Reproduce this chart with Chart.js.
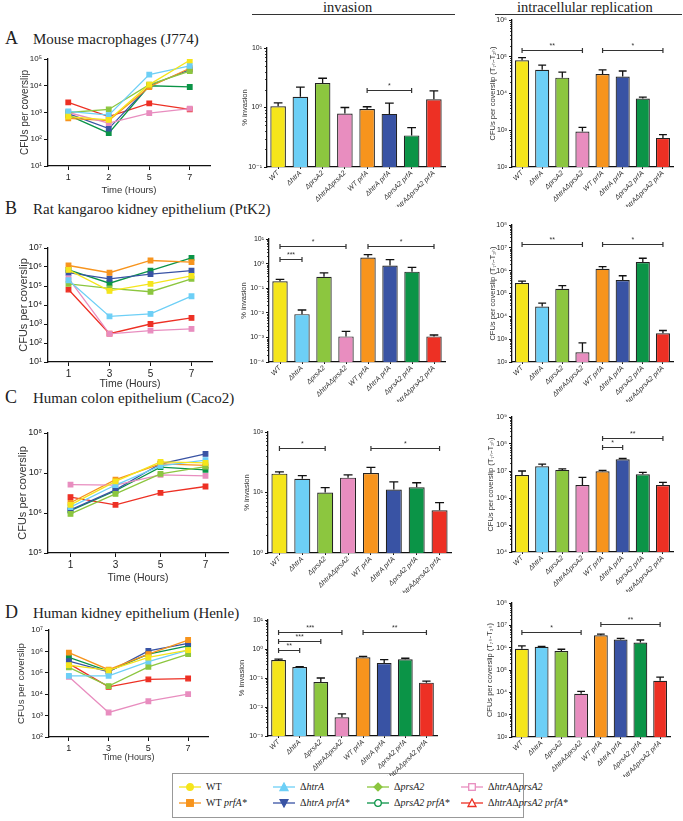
<!DOCTYPE html>
<html>
<head>
<meta charset="utf-8">
<script src="https://cdn.jsdelivr.net/npm/chart.js@4.4.0/dist/chart.umd.min.js"></script>
<style>
  body { margin: 0; width: 683px; height: 821px; position: relative; background: #fff; overflow: hidden; font-family: 'Liberation Serif', 'DejaVu Serif', serif; color: #222; }
  canvas { position: absolute; }
  .lbl { position: absolute; white-space: nowrap; line-height: 1; }
  .hline { position: absolute; height: 0; border-top: 1.5px solid #333; }
  #legend { position: absolute; left: 172px; top: 773px; width: 352px; height: 45px; border: 1px solid #999; box-sizing: border-box; }
  .item { position: absolute; font-size: 10px; white-space: nowrap; display: flex; align-items: center; }
  .item svg { margin-right: 5px; }
</style>
</head>
<body>

<div class="lbl" style="left:5px;top:29px;font-size:18px">A</div>
<div class="lbl" style="left:33px;top:32px;font-size:15px">Mouse macrophages (J774)</div>
<div class="lbl" style="left:5px;top:199px;font-size:18px">B</div>
<div class="lbl" style="left:33px;top:202px;font-size:15px">Rat kangaroo kidney epithelium (PtK2)</div>
<div class="lbl" style="left:5px;top:388px;font-size:18px">C</div>
<div class="lbl" style="left:33px;top:391px;font-size:15px">Human colon epithelium (Caco2)</div>
<div class="lbl" style="left:5px;top:603px;font-size:18px">D</div>
<div class="lbl" style="left:33px;top:606px;font-size:15px">Human kidney epithelium (Henle)</div>

<div class="lbl" style="left:323px;top:0px;font-size:14.5px">invasion</div>
<div class="hline" style="left:252px;top:14px;width:203px"></div>
<div class="lbl" style="left:517px;top:0px;font-size:14.5px">intracellular replication</div>
<div class="hline" style="left:495px;top:14px;width:187px"></div>

<div id="legend"></div>

<script>
// strains, in the same order everywhere
const strains = ['WT', 'ΔhtrA', 'ΔprsA2', 'ΔhtrAΔprsA2', 'WT prfA*', 'ΔhtrA prfA*', 'ΔprsA2 prfA*', 'ΔhtrAΔprsA2 prfA*'];
const barLabels = ['WT', 'ΔhtrA', 'ΔprsA2', 'ΔhtrAΔprsA2', 'WT prfA', 'ΔhtrA prfA', 'ΔprsA2 prfA', 'ΔhtrAΔprsA2 prfA'];
const hoursA = ['1', '2', '5', '7'];
const hoursBCD = ['1', '3', '5', '7'];

// time courses, CFUs per coverslip (one row per strain)
const cfuA = [
  [700, 530, 11000, 90000],
  [1100, 800, 26000, 55000],
  [1000, 1300, 11000, 35000],
  [1000, 400, 950, 1400],
  [600, 500, 9000, 45000],
  [900, 250, 10000, 40000],
  [800, 170, 10000, 9000],
  [2400, 700, 2200, 1300]
];
const cfuB = [
  [7e5, 5.5e4, 1.3e5, 3.4e5],
  [2e5, 2.5e3, 3.4e3, 2.9e4],
  [1.3e5, 7.5e4, 5e4, 2.4e5],
  [2.5e5, 300, 450, 550],
  [1.2e6, 5e5, 2.2e6, 1.8e6],
  [5e5, 2.4e5, 4.2e5, 6.5e5],
  [7e5, 1.4e5, 6.5e5, 3e6],
  [6.5e4, 310, 1000, 2100]
];
const cfuC = [
  [1.6e6, 6.2e6, 1.9e7, 1.8e7],
  [1.4e6, 5e6, 1.5e7, 2.1e7],
  [9.5e5, 3e6, 9.5e6, 1.45e7],
  [5.1e6, 5e6, 9e6, 8.5e6],
  [1.8e6, 6.8e6, 1.7e7, 1.55e7],
  [1.2e6, 3.8e6, 1.7e7, 3e7],
  [1.15e6, 3.6e6, 1.4e7, 1.2e7],
  [2.5e6, 1.6e6, 3.2e6, 4.6e6]
];
const cfuD = [
  [2.3e5, 1.3e5, 5.2e5, 1.15e6],
  [7.2e4, 7.2e4, 3.3e5, 1.15e6],
  [1.8e5, 2.4e4, 1.9e5, 7.5e5],
  [6.5e4, 1.4e3, 4.7e3, 1e4],
  [8.7e5, 1.4e5, 7.5e5, 3.4e6],
  [3.5e5, 1.1e5, 1.05e6, 2.4e6],
  [5.2e5, 1.2e5, 7.5e5, 1.8e6],
  [2.7e5, 2.2e4, 4.9e4, 5.4e4]
];

// % invasion and intracellular replication (mean, mean + error)
const invA = [1.05, 1.52, 2.58, 0.79, 0.94, 0.78, 0.34, 1.38];
const invAErr = [1.2, 2.2, 3.1, 1.0, 1.03, 1.18, 0.46, 1.9];
const repA = [8e4, 4.4e4, 2.7e4, 920, 3.4e4, 2.9e4, 7.3e3, 620];
const repAErr = [9.5e4, 5.9e4, 3.8e4, 1.2e3, 4.4e4, 4.1e4, 8e3, 760];
const invB = [0.19, 0.0088, 0.29, 1.1e-3, 1.75, 0.83, 0.47, 1.1e-3];
const invBErr = [0.23, 0.013, 0.42, 1.75e-3, 2.3, 1.45, 0.7, 1.25e-3];
const repB = [2.9e5, 2.7e4, 1.6e5, 265, 1.2e6, 3.9e5, 2.4e6, 1.8e3];
const repBErr = [3.5e5, 3.8e4, 2.2e5, 690, 1.5e6, 6e5, 3.5e6, 2.4e3];
const invC = [20.5, 16.8, 10, 17.6, 21, 11.2, 12.2, 5.1];
const invCErr = [22, 19, 12, 19.5, 26, 15, 14.5, 6.8];
const repC = [7.1e6, 1.5e7, 1.1e7, 3e6, 9.7e6, 2.7e7, 7.5e6, 3e6];
const repCErr = [1e7, 1.8e7, 1.2e7, 5.8e6, 1.05e7, 2.9e7, 8.9e6, 3.8e6];
const invD = [0.42, 0.24, 0.073, 4.4e-3, 0.52, 0.33, 0.44, 0.069];
const invDErr = [0.45, 0.245, 0.1, 5.8e-3, 0.56, 0.43, 0.48, 0.078];
const repD = [9e5, 1.1e6, 7.1e5, 8.7e3, 3.6e6, 2.3e6, 1.7e6, 3.3e4];
const repDErr = [1.2e6, 1.15e6, 8.5e5, 1.1e4, 4e6, 2.6e6, 2.2e6, 4.8e4];

// significance brackets: [from bar, to bar, height, stars]
const sigInvA = [[4, 6, 1.96, '*']];
const sigRepA = [[0, 3, 1.5e5, '**'], [4, 7, 1.5e5, '*']];
const sigInvB = [[0, 3, 5.4, '*'], [0, 1, 1.55, '***'], [4, 7, 5.4, '*']];
const sigRepB = [[0, 3, 1.5e7, '**'], [4, 7, 1.5e7, '*']];
const sigInvC = [[0, 2, 55, '*'], [4, 7, 55, '*']];
const sigRepC = [[4, 5, 7.6e7, '*'], [4, 7, 1.7e8, '**']];
const sigInvD = [[0, 3, 4, '***'], [0, 2, 1.94, '***'], [0, 1, 0.92, '**'], [4, 7, 4, '**']];
const sigRepD = [[0, 3, 5.2e6, '*'], [4, 7, 1.2e7, '**']];

const colors = ['#f5e51b', '#6dcff6', '#8cc63f', '#e88dbf', '#f7941d', '#3953a4', '#0b9447', '#ed3024'];
const marks = ['circle', 'tri', 'diamond', 'sqOpen', 'square', 'triDown', 'circleOpen', 'triOpen'];

Chart.defaults.font.family = "'Liberation Sans', 'DejaVu Sans', sans-serif";
Chart.defaults.color = '#333';

const supMap = { '-': '⁻', '0': '⁰', '1': '¹', '2': '²', '3': '³', '4': '⁴', '5': '⁵', '6': '⁶', '7': '⁷', '8': '⁸', '9': '⁹' };
function pow10(v) {
  const e = Math.round(Math.log10(v));
  return '10' + String(e).split('').map(c => supMap[c]).join('');
}

function addCanvas(b) {
  const el = document.createElement('canvas');
  el.width = b.r - b.x;
  el.height = b.b - b.y;
  el.style.left = b.x + 'px';
  el.style.top = b.y + 'px';
  document.body.appendChild(el);
  return el;
}

function logAxis(min, max, title, fs, tfs, width, minor) {
  return {
    type: 'logarithmic', min: min, max: max,
    afterBuildTicks: s => {
      const t = [];
      for (let e = Math.round(Math.log10(min)); e <= Math.round(Math.log10(max)); e++) t.push({ value: Math.pow(10, e) });
      s.ticks = t;
    },
    afterFit: s => { s.width = width; },
    ticks: { callback: v => pow10(v), font: { size: fs }, color: '#222', padding: 2 },
    grid: { display: true, drawOnChartArea: false, tickLength: minor ? 3 : 4, color: '#111', lineWidth: 1 },
    border: { color: '#111', width: 1.3 },
    title: { display: true, text: title, font: { size: tfs, lineHeight: 1 }, padding: 0, color: '#333' }
  };
}

// minor log ticks on bar chart y axes
const minorTicks = {
  id: 'minorTicks',
  afterDraw(chart) {
    const y = chart.scales.y, ctx = chart.ctx;
    ctx.save();
    ctx.strokeStyle = '#111';
    ctx.lineWidth = 0.8;
    for (let e = Math.round(Math.log10(y.min)); e < Math.round(Math.log10(y.max)); e++) {
      for (let k = 2; k < 10; k++) {
        const py = Math.round(y.getPixelForValue(k * Math.pow(10, e))) + 0.5;
        ctx.beginPath();
        ctx.moveTo(y.right - 2, py);
        ctx.lineTo(y.right, py);
        ctx.stroke();
      }
    }
    ctx.restore();
  }
};

function errPlugin(err) {
  return {
    id: 'errBars',
    afterDatasetsDraw(chart) {
      const meta = chart.getDatasetMeta(0), y = chart.scales.y, ctx = chart.ctx;
      ctx.save();
      ctx.strokeStyle = '#111';
      ctx.lineWidth = 1.3;
      meta.data.forEach((bar, i) => {
        const top = y.getPixelForValue(err[i]);
        const half = bar.width * 0.28;
        ctx.beginPath();
        ctx.moveTo(bar.x, bar.y);
        ctx.lineTo(bar.x, top);
        ctx.moveTo(bar.x - half, top);
        ctx.lineTo(bar.x + half, top);
        ctx.stroke();
      });
      ctx.restore();
    }
  };
}

function sigPlugin(items, fs) {
  return {
    id: 'sig',
    afterDraw(chart) {
      const x = chart.scales.x, y = chart.scales.y, ctx = chart.ctx;
      ctx.save();
      ctx.strokeStyle = '#333';
      ctx.fillStyle = '#333';
      ctx.lineWidth = 1.2;
      ctx.font = fs + "px 'Liberation Sans'";
      ctx.textAlign = 'center';
      ctx.textBaseline = 'bottom';
      items.forEach(([a, b, v, t]) => {
        const py = Math.round(y.getPixelForValue(v)) + 0.5;
        const x1 = x.getPixelForValue(a), x2 = x.getPixelForValue(b);
        ctx.beginPath();
        ctx.moveTo(x1, py); ctx.lineTo(x2, py);
        ctx.moveTo(x1, py - 2.5); ctx.lineTo(x1, py + 2.5);
        ctx.moveTo(x2, py - 2.5); ctx.lineTo(x2, py + 2.5);
        ctx.stroke();
        ctx.fillText(t, (x1 + x2) / 2, py - 1);
      });
      ctx.restore();
    }
  };
}

function lineChart(b, p, labels, rows, min, max, fs, tfs) {
  new Chart(addCanvas(b), {
    type: 'line',
    data: {
      labels: labels,
      datasets: rows.map((r, i) => ({
        label: strains[i], data: r,
        borderColor: colors[i], backgroundColor: colors[i],
        borderWidth: 1.3, pointStyle: 'rect', pointRadius: 3.2, tension: 0
      }))
    },
    options: {
      responsive: false, animation: false, devicePixelRatio: 1,
      layout: { padding: { top: p.t - b.y, right: b.r - p.r, left: 0, bottom: 0 } },
      plugins: { legend: { display: false }, tooltip: { enabled: false } },
      scales: {
        x: {
          type: 'category', offset: true,
          afterFit: s => { s.height = b.b - p.b; },
          ticks: { font: { size: fs + 1 }, color: '#222', padding: 2 },
          grid: { display: true, drawOnChartArea: false, tickLength: 4, color: '#111', offset: false },
          border: { color: '#111', width: 1.3 },
          title: { display: true, text: 'Time (Hours)', font: { size: tfs - 0.5, lineHeight: 1 }, padding: 0, color: '#333' }
        },
        y: logAxis(min, max, 'CFUs per coverslip', fs, tfs, p.l - b.x, false)
      }
    }
  });
}

function barChart(b, p, vals, err, sig, min, max, title) {
  new Chart(addCanvas(b), {
    type: 'bar',
    data: {
      labels: barLabels,
      datasets: [{
        data: vals, backgroundColor: colors,
        borderColor: '#222', borderWidth: 1.2,
        barPercentage: 0.7, categoryPercentage: 1
      }]
    },
    options: {
      responsive: false, animation: false, devicePixelRatio: 1,
      layout: { padding: { top: p.t - b.y, right: b.r - p.r, left: 0, bottom: 0 } },
      plugins: { legend: { display: false }, tooltip: { enabled: false } },
      scales: {
        x: {
          type: 'category', offset: true,
          afterFit: s => { s.height = b.b - p.b; },
          ticks: { font: { size: 7, style: 'italic' }, color: '#333', maxRotation: 45, minRotation: 45, padding: 0, autoSkip: false },
          grid: { display: true, drawOnChartArea: false, tickLength: 2, color: '#111', offset: false },
          border: { color: '#111', width: 1.3 }
        },
        y: logAxis(min, max, title, 7, 7.5, p.l - b.x, true)
      }
    },
    plugins: [minorTicks, errPlugin(err), sigPlugin(sig, 7)]
  });
}

// time course panels
lineChart({ x: 20, y: 45, r: 225, b: 195 }, { l: 48, t: 59, r: 210, b: 166 }, hoursA, cfuA, 1e1, 1e5, 8, 10);
lineChart({ x: 18, y: 235, r: 225, b: 389 }, { l: 48, t: 248, r: 212, b: 362 }, hoursBCD, cfuB, 1e1, 1e7, 9, 11);
lineChart({ x: 17, y: 420, r: 240, b: 583 }, { l: 48, t: 433, r: 228, b: 553 }, hoursBCD, cfuC, 1e5, 1e8, 9, 11);
lineChart({ x: 17, y: 618, r: 222, b: 762 }, { l: 49, t: 630, r: 208, b: 737 }, hoursBCD, cfuD, 1e2, 1e7, 8, 9.5);

// invasion panels
barChart({ x: 241, y: 38, r: 450, b: 207 }, { l: 267, t: 48, r: 445, b: 167 }, invA, invAErr, sigInvA, 0.1, 10, '% invasion');
barChart({ x: 240, y: 229, r: 450, b: 402 }, { l: 269, t: 239, r: 445, b: 362 }, invB, invBErr, sigInvB, 1e-4, 10, '% invasion');
barChart({ x: 243, y: 422, r: 456, b: 593 }, { l: 268, t: 432, r: 451, b: 553 }, invC, invCErr, sigInvC, 1, 100, '% invasion');
barChart({ x: 238, y: 610, r: 445, b: 776 }, { l: 268, t: 620, r: 437, b: 736 }, invD, invDErr, sigInvD, 1e-3, 10, '% invasion');

// intracellular replication panels
barChart({ x: 489, y: 10, r: 681, b: 207 }, { l: 512, t: 20, r: 673, b: 167 }, repA, repAErr, sigRepA, 1e2, 1e6, 'CFUs per coverslip (T₇ₕ-T₂ₕ)');
barChart({ x: 489, y: 215, r: 681, b: 402 }, { l: 512, t: 225, r: 673, b: 362 }, repB, repBErr, sigRepB, 1e2, 1e8, 'CFUs per coverslip (T₇ₕ-T₃ₕ)');
barChart({ x: 487, y: 407, r: 681, b: 592 }, { l: 512, t: 417, r: 673, b: 552 }, repC, repCErr, sigRepC, 1e4, 1e9, 'CFUs per coverslip (T₇ₕ-T₃ₕ)');
barChart({ x: 486, y: 593, r: 681, b: 777 }, { l: 512, t: 603, r: 670, b: 737 }, repD, repDErr, sigRepD, 1e2, 1e8, 'CFUs per coverslip (T₇ₕ-T₃ₕ)');

// legend
function markSvg(shape, c) {
  let m = '';
  const f = shape.includes('Open') ? '#fff' : c;
  if (shape.startsWith('circle')) m = `<circle cx="11" cy="5" r="3.3" fill="${f}" stroke="${c}" stroke-width="1.3"/>`;
  else if (shape.startsWith('sq') || shape === 'square') m = `<rect x="7.7" y="1.7" width="6.6" height="6.6" fill="${f}" stroke="${c}" stroke-width="1.3"/>`;
  else if (shape === 'diamond') m = `<polygon points="11,1 15,5 11,9 7,5" fill="${f}" stroke="${c}" stroke-width="1.2"/>`;
  else if (shape === 'triDown') m = `<polygon points="7,1.5 15,1.5 11,9" fill="${f}" stroke="${c}" stroke-width="1.2"/>`;
  else m = `<polygon points="11,1 15,8.5 7,8.5" fill="${f}" stroke="${c}" stroke-width="1.3"/>`;
  return `<svg width="22" height="10"><line x1="0" y1="5" x2="22" y2="5" stroke="${c}" stroke-width="1.3"/>${m}</svg>`;
}
const legend = document.getElementById('legend');
strains.forEach((s, i) => {
  const d = document.createElement('div');
  d.className = 'item';
  d.style.left = (6 + (i % 4) * 94) + 'px';
  d.style.top = (Math.floor(i / 4) * 16 + 7) + 'px';
  d.innerHTML = markSvg(marks[i], colors[i]) + '<span>' + s.replace(/(htrA|prsA2|prfA\*)/g, '<i>$1</i>') + '</span>';
  legend.appendChild(d);
});
</script>
</body>
</html>
